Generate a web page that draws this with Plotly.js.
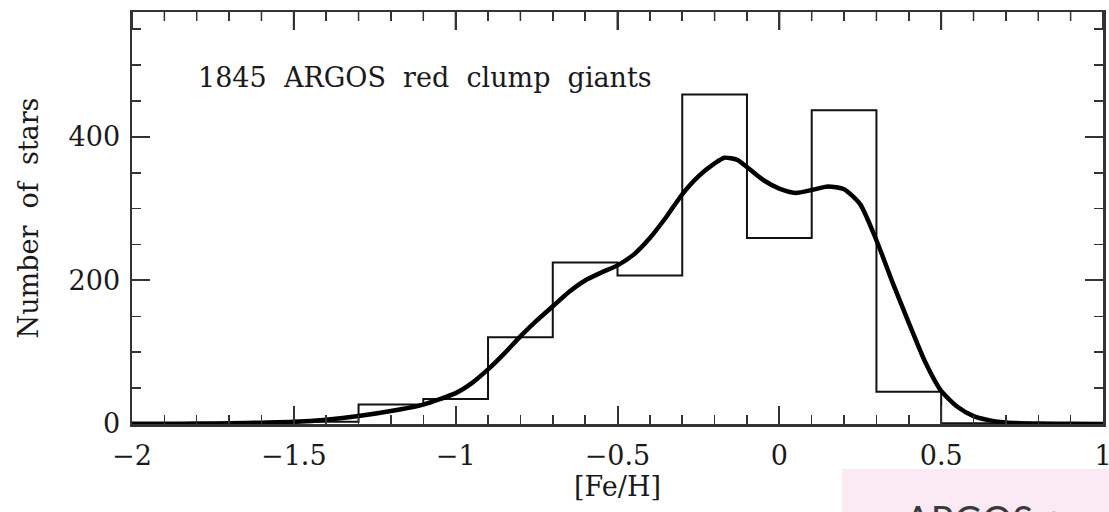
<!DOCTYPE html>
<html>
<head>
<meta charset="utf-8">
<script src="https://cdn.plot.ly/plotly-3.0.1.min.js"></script>
<style>html,body{margin:0;padding:0;background:#fff;}#chart{width:1109px;height:512px;}</style>
</head>
<body>
<div id="chart"></div>
<script>
// Histogram bins (left edges, width 0.2) and counts
const binWidth = 0.2;
const binLeft = [-2.1, -1.9, -1.7, -1.5, -1.3, -1.1, -0.9, -0.7, -0.5, -0.3, -0.1, 0.1, 0.3, 0.5, 0.7, 0.9];
const binCounts = [0, 0, 1, 3, 27, 35, 121, 225, 207, 459, 259, 437, 45, 1, 0, 0];

// Smoothed distribution curve
const kdeX = [-2.0, -1.9, -1.8, -1.7, -1.6, -1.5, -1.4, -1.3, -1.2, -1.1, -1.0, -0.95, -0.9, -0.85, -0.8, -0.75, -0.7, -0.65, -0.6, -0.55, -0.5, -0.45, -0.4, -0.35, -0.3, -0.25, -0.2, -0.17, -0.13, -0.1, -0.05, 0.0, 0.05, 0.1, 0.15, 0.2, 0.25, 0.3, 0.35, 0.4, 0.45, 0.5, 0.55, 0.6, 0.65, 0.7, 0.8, 0.9, 1.0];
const kdeY = [0.3, 0.4, 0.6, 1, 1.8, 3, 6, 11, 18, 27, 43, 57, 76, 98, 122, 144, 164, 184, 200, 211, 221, 236, 259, 288, 320, 345, 363, 371, 368, 358, 340, 328, 322, 326, 331, 327, 306, 256, 197, 141, 87, 46, 24, 11, 5, 2, 0.6, 0.2, 0];

// Tick labels
const xTickVals = [-2, -1.5, -1, -0.5, 0, 0.5, 1];
const xTickText = ['\u22122', '\u22121.5', '\u22121', '\u22120.5', '0', '0.5', '1'];
const xMinorStep = 0.1;
const yTickVals = [0, 200, 400];
const yTickText = ['0', '200', '400'];
const yMax = 574;

const labelText = '1845\u00a0\u00a0ARGOS\u00a0\u00a0red\u00a0\u00a0clump\u00a0\u00a0giants';
const xTitle = '[Fe/H]';
const yTitle = 'Number\u00a0\u00a0of\u00a0\u00a0stars';
const cornerText = 'ARGOS +';

// Build step outline from bins
const stepX = [], stepY = [];
for (let i = 0; i < binLeft.length; i++) { stepX.push(binLeft[i]); stepY.push(binCounts[i]); }
stepX.push(binLeft[binLeft.length - 1] + binWidth); stepY.push(binCounts[binCounts.length - 1]);

const serif = '"DejaVu Serif", "Liberation Serif", serif';
const ink = '#1a1a1a';
const axisCol = '#333';

const W = 1109, H = 512;
const M = {l: 132, r: 6, t: 12, b: 88};
const plotH = H - M.t - M.b;
const majorLen = 18, minorLen = 9;

// Mirrored tick marks along the top frame, at the axis tick values (frame decoration)
const x0 = xTickVals[0], x1 = xTickVals[xTickVals.length - 1];
const nMinor = Math.round((x1 - x0) / xMinorStep);
const topMajX = [], topMajY = [], topMinX = [], topMinY = [];
for (let i = 0; i <= nMinor; i++) {
  const v = +(x0 + i * xMinorStep).toFixed(6);
  const isMajor = xTickVals.some(t => Math.abs(t - v) < 1e-6);
  if (isMajor) { topMajX.push(v, v, null); topMajY.push(yMax, yMax * (1 - majorLen / plotH), null); }
  else { topMinX.push(v, v, null); topMinY.push(yMax, yMax * (1 - minorLen / plotH), null); }
}

const traces = [
  {x: stepX, y: stepY, type: 'scatter', mode: 'lines', line: {shape: 'hv', color: '#111', width: 2}, hoverinfo: 'skip', showlegend: false},
  {x: kdeX, y: kdeY, type: 'scatter', mode: 'lines', line: {shape: 'spline', smoothing: 0.6, color: '#000', width: 4.5}, showlegend: false},
  {x: topMajX, y: topMajY, type: 'scatter', mode: 'lines', line: {color: axisCol, width: 2}, hoverinfo: 'skip', showlegend: false, cliponaxis: false},
  {x: topMinX, y: topMinY, type: 'scatter', mode: 'lines', line: {color: axisCol, width: 1.5}, hoverinfo: 'skip', showlegend: false, cliponaxis: false}
];

const axisCommon = {
  showline: true, linecolor: axisCol, linewidth: 2.5,
  ticks: 'inside', ticklen: majorLen, tickwidth: 2, tickcolor: axisCol,
  showgrid: false, zeroline: false,
  ticklabeloverflow: 'allow',
  tickfont: {family: serif, size: 27, color: ink}
};

const layout = {
  width: W, height: H,
  margin: M,
  paper_bgcolor: '#fff', plot_bgcolor: '#fff',
  xaxis: Object.assign({}, axisCommon, {
    range: [x0, x1], tickmode: 'array', tickvals: xTickVals, ticktext: xTickText, mirror: 'allticks',
    minor: {dtick: xMinorStep, tick0: 0, ticks: 'inside', ticklen: minorLen, tickwidth: 1.5, tickcolor: axisCol},
    ticklabelstandoff: 6,
    title: {text: xTitle, font: {family: serif, size: 27, color: ink}, standoff: 4}
  }),
  yaxis: Object.assign({}, axisCommon, {
    range: [0, yMax], tickmode: 'array', tickvals: yTickVals, ticktext: yTickText, mirror: 'allticks',
    minor: {dtick: 50, tick0: 0, ticks: 'inside', ticklen: minorLen, tickwidth: 1.5, tickcolor: axisCol},
    ticklabelstandoff: 4,
    title: {text: yTitle, font: {family: serif, size: 27, color: ink}, standoff: 22}
  }),
  shapes: [
    {type: 'rect', xref: 'paper', yref: 'paper', x0: 0.731, x1: 1.02, y0: -0.109, y1: -0.3, fillcolor: '#fbeaf3', line: {width: 0}, layer: 'below'}
  ],
  annotations: [
    {text: labelText, xref: 'paper', yref: 'paper', x: 0.066, y: 0.84, xanchor: 'left', yanchor: 'middle', showarrow: false, font: {family: serif, size: 27, color: ink}},
    {text: cornerText, xref: 'paper', yref: 'paper', x: 0.794, y: -0.17, xanchor: 'left', yanchor: 'top', showarrow: false, font: {family: 'Lato, "Open Sans", sans-serif', size: 38, color: '#3a3a3a'}}
  ],
  showlegend: false
};

Plotly.newPlot('chart', traces, layout, {displayModeBar: false, staticPlot: true});
</script>
</body>
</html>
